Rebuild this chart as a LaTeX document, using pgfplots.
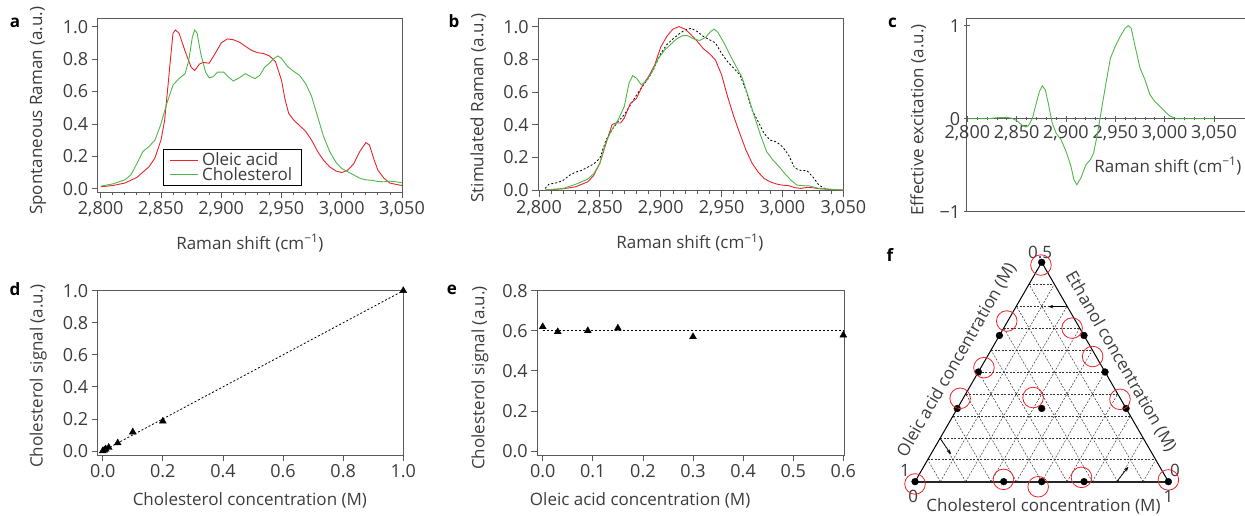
\documentclass[border=0pt]{standalone}
\usepackage{fontspec}
\setmainfont{Open Sans}
\usepackage{pgfplots}
\pgfplotsset{compat=1.18}
\usetikzlibrary{arrows.meta}
\definecolor{axg}{HTML}{5A5A5A}
\definecolor{txt}{HTML}{3C3C3C}
\definecolor{cred}{HTML}{E8232A}
\definecolor{cgreen}{HTML}{4DB848}
\newcommand\fs{\fontsize{18}{21}\selectfont}
\newcommand\fl{\fontsize{17}{20}\selectfont}
\newcommand\pl{\fontsize{17}{19}\selectfont\bfseries}
\pgfplotsset{
  panel/.style={
    scale only axis, anchor=south west,
    axis line style={axg, line width=0.8pt},
    every tick/.style={axg, line width=0.8pt},
    major tick length=6pt, minor tick length=3.5pt,
    tick align=outside,
    tick label style={font=\fs, text=txt},
    label style={font=\fl, text=txt},
    /pgf/number format/assume math mode=true,
    xlabel style={anchor=center}, ylabel style={anchor=center},
  },
  onedec/.style={/pgf/number format/.cd, fixed, fixed zerofill, precision=1},
  spec/.style={panel, xtick={2800,2850,...,3050}, minor x tick num=4,
    xticklabel style={/pgf/number format/.cd, 1000 sep={,}},
    ytick={0,0.2,0.4,0.6,0.8,1.0}, yticklabel style={onedec},
    tick pos=left, xlabel={Raman shift (cm\textsuperscript{−1})}},
}
\begin{document}
\begin{tikzpicture}
\path[use as bounding box] (0pt,0pt) rectangle (1245pt,516pt);
% ---------- a ----------
\begin{axis}[spec, at={(97.7pt,324pt)}, width=304.3pt, height=174pt,
  xmin=2797.5, xmax=3050, ymin=-0.02, ymax=1.054,
  ylabel={Spontaneous Raman (a.u.)},
  xlabel style={at={(axis description cs:0.5,-0.293)}},
  ylabel style={at={(axis description cs:-0.196,0.467)}},
  legend style={at={(0.2156,0.0345)}, anchor=south west, draw=black, line width=0.8pt,
    font=\fontsize{17}{19}\selectfont, text=txt, inner xsep=6pt, inner ysep=1.5pt,
    row sep=-3.5pt, nodes={inner xsep=3.5pt}},
  legend cell align=left,
  legend image code/.code={\draw[#1] (0pt,0pt) -- (28pt,0pt);}]
\addplot[cred, line width=0.9pt] coordinates {
(2800,0.012)(2810,0.02)(2820,0.035)(2830,0.07)(2840,0.135)(2845,0.19)(2850,0.30)(2853,0.42)
(2856,0.65)(2858,0.81)(2860,0.96)(2862,0.98)(2865,0.96)(2870,0.85)(2875,0.75)(2878,0.73)
(2882,0.77)(2885,0.78)(2890,0.775)(2895,0.835)(2900,0.90)(2905,0.925)(2910,0.92)(2915,0.905)
(2920,0.88)(2925,0.855)(2930,0.84)(2935,0.835)(2940,0.82)(2945,0.785)(2950,0.67)(2953,0.55)
(2956,0.465)(2960,0.425)(2965,0.39)(2970,0.355)(2975,0.30)(2980,0.23)(2985,0.175)(2990,0.135)
(2995,0.11)(3000,0.10)(3005,0.115)(3010,0.155)(3015,0.23)(3020,0.285)(3023,0.27)(3027,0.175)
(3030,0.115)(3035,0.065)(3040,0.035)(3045,0.027)(3050,0.02)};
\addlegendentry{Oleic acid}
\addplot[cgreen, line width=0.9pt] coordinates {
(2800,0.016)(2810,0.03)(2820,0.055)(2825,0.085)(2830,0.155)(2835,0.23)(2840,0.26)(2845,0.30)
(2850,0.40)(2855,0.53)(2860,0.64)(2865,0.68)(2870,0.71)(2873,0.79)(2876,0.935)(2878,0.98)
(2880,0.96)(2883,0.835)(2887,0.72)(2890,0.685)(2893,0.69)(2897,0.72)(2902,0.72)(2906,0.69)
(2910,0.665)(2915,0.685)(2920,0.71)(2925,0.69)(2928,0.68)(2932,0.70)(2936,0.75)(2940,0.775)
(2944,0.805)(2947,0.82)(2950,0.805)(2955,0.755)(2960,0.725)(2965,0.70)(2970,0.65)(2975,0.57)
(2980,0.445)(2985,0.32)(2990,0.23)(2995,0.165)(3000,0.125)(3005,0.105)(3010,0.085)(3015,0.065)
(3020,0.055)(3025,0.052)(3030,0.045)(3035,0.043)(3040,0.047)(3045,0.043)(3050,0.037)};
\addlegendentry{Cholesterol}
\end{axis}
% ---------- b ----------
\begin{axis}[spec, at={(538.3pt,325.3pt)}, width=305pt, height=172.4pt,
  xmin=2799.4, xmax=3050, ymin=-0.004, ymax=1.051,
  ylabel={Stimulated Raman (a.u.)},
  xlabel style={at={(axis description cs:0.497,-0.303)}},
  ylabel style={at={(axis description cs:-0.197,0.48)}}]
\addplot[black, line width=0.8pt, dash pattern=on 2pt off 2pt] coordinates {
(2805,0.01)(2808,0.035)(2815,0.045)(2820,0.06)(2825,0.09)(2830,0.11)(2835,0.12)(2840,0.14)
(2845,0.16)(2850,0.195)(2855,0.305)(2860,0.37)(2865,0.42)(2870,0.46)(2875,0.52)(2880,0.58)
(2885,0.635)(2890,0.685)(2895,0.755)(2900,0.835)(2905,0.89)(2910,0.925)(2915,0.955)(2920,0.98)
(2925,0.99)(2930,0.97)(2935,0.94)(2940,0.92)(2945,0.90)(2950,0.835)(2955,0.785)(2960,0.745)
(2965,0.705)(2970,0.61)(2975,0.49)(2980,0.42)(2985,0.345)(2990,0.305)(2995,0.295)(3000,0.265)
(3005,0.215)(3010,0.135)(3015,0.12)(3020,0.12)(3025,0.08)(3030,0.03)(3035,0.008)(3040,0.0)};
\addplot[cred, line width=0.9pt] coordinates {
(2805,0.0)(2820,0.008)(2830,0.02)(2840,0.05)(2845,0.09)(2850,0.165)(2855,0.285)(2860,0.40)
(2863,0.41)(2867,0.41)(2870,0.44)(2875,0.53)(2880,0.56)(2885,0.64)(2890,0.695)(2895,0.765)
(2900,0.875)(2905,0.94)(2910,0.985)(2915,1.0)(2920,0.985)(2925,0.95)(2930,0.91)(2935,0.865)
(2940,0.835)(2945,0.795)(2950,0.705)(2955,0.57)(2960,0.45)(2965,0.345)(2970,0.245)(2975,0.165)
(2980,0.11)(2985,0.07)(2990,0.05)(2995,0.037)(3000,0.03)(3005,0.027)(3010,0.015)(3015,0.01)
(3020,0.016)(3025,0.014)(3030,0.008)(3040,0.004)(3050,0.0)};
\addplot[cgreen, line width=0.9pt] coordinates {
(2805,0.0)(2820,0.01)(2830,0.035)(2840,0.067)(2845,0.10)(2850,0.165)(2855,0.295)(2860,0.37)
(2865,0.43)(2870,0.51)(2874,0.655)(2877,0.70)(2880,0.685)(2884,0.645)(2888,0.665)(2893,0.725)
(2898,0.805)(2903,0.855)(2908,0.89)(2913,0.925)(2918,0.945)(2922,0.945)(2927,0.925)(2932,0.915)
(2937,0.935)(2941,0.97)(2944,0.985)(2947,0.965)(2952,0.90)(2957,0.825)(2962,0.755)(2967,0.685)
(2972,0.57)(2977,0.45)(2982,0.335)(2987,0.235)(2992,0.185)(2997,0.145)(3002,0.10)(3007,0.06)
(3012,0.03)(3017,0.027)(3022,0.025)(3030,0.01)(3040,0.004)(3050,0.0)};
\end{axis}
% ---------- c ----------
\begin{axis}[panel, at={(966.7pt,304.3pt)}, width=278.3pt, height=193.4pt,
  xmin=2799.4, xmax=3081.4, ymin=-1, ymax=1.08,
  axis y line=left, axis x line=middle, axis line style={-},
  xtick={2800,2850,...,3050}, minor x tick num=4,
  xticklabel style={/pgf/number format/.cd, 1000 sep={,}},
  ytick={-1,0,1}, yticklabels={−1,0,1},
  xlabel={Raman shift (cm\textsuperscript{−1})},
  ylabel={Effective excitation (a.u.)},
  xlabel style={font=\fl, text=txt, at={(axis description cs:0.723,0.236)}, anchor=center},
  ylabel style={font=\fl, text=txt, at={(axis description cs:-0.174,0.474)}, anchor=center},
  clip=false]
\draw[axg, line width=0.8pt] (rel axis cs:0,1) -- (rel axis cs:1.05,1);
\draw[axg, line width=0.8pt] (rel axis cs:0,0) -- (rel axis cs:1.05,0);
\addplot[cgreen, line width=0.9pt] coordinates {
(2800,0)(2820,0)(2830,0.01)(2840,0.015)(2845,0.005)(2850,-0.02)(2855,-0.065)(2859,-0.09)
(2862,-0.075)(2866,0.005)(2870,0.17)(2873,0.29)(2876,0.355)(2879,0.31)(2882,0.17)(2886,-0.045)
(2890,-0.155)(2895,-0.225)(2900,-0.35)(2905,-0.51)(2908,-0.655)(2911,-0.71)(2915,-0.64)(2920,-0.50)
(2925,-0.435)(2928,-0.37)(2932,-0.155)(2936,0.1)(2940,0.35)(2945,0.65)(2950,0.78)(2955,0.885)
(2960,0.975)(2963,1.0)(2966,0.975)(2970,0.78)(2975,0.545)(2980,0.42)(2985,0.26)(2990,0.185)
(2995,0.135)(3000,0.08)(3005,0.03)(3010,0.007)(3013,0)(3050,0)};
\end{axis}
% ---------- d ----------
\begin{axis}[panel, at={(97.7pt,61pt)}, width=305.6pt, height=164.3pt,
  xmin=-0.0167, xmax=1.0, ymin=-0.025, ymax=1.0, tick pos=left,
  xtick={0,0.2,0.4,0.6,0.8,1.0}, ytick={0,0.2,0.4,0.6,0.8,1.0},
  xticklabel style={onedec}, yticklabel style={onedec},
  xlabel={Cholesterol concentration (M)}, ylabel={Cholesterol signal (a.u.)},
  xlabel style={at={(axis description cs:0.498,-0.274)}},
  ylabel style={at={(axis description cs:-0.195,0.481)}},
  clip=false]
\addplot[black, line width=0.8pt, dash pattern=on 2pt off 2pt] coordinates {(0,0)(1,1)};
\addplot[only marks, mark=triangle*, mark size=4pt, black] coordinates {
(0,0)(0.005,0.005)(0.01,0.012)(0.02,0.022)(0.05,0.05)(0.1,0.118)(0.2,0.186)(1.0,1.0)};
\end{axis}
% ---------- e ----------
\begin{axis}[panel, at={(537.3pt,61pt)}, width=307pt, height=164.3pt,
  xmin=-0.0108, xmax=0.602, ymin=-0.02, ymax=0.8, tick pos=left,
  xtick={0,0.1,0.2,0.3,0.4,0.5,0.6}, ytick={0,0.2,0.4,0.6,0.8},
  xticklabel style={onedec}, yticklabel style={onedec},
  xlabel={Oleic acid concentration (M)}, ylabel={Cholesterol signal (a.u.)},
  xlabel style={at={(axis description cs:0.335,-0.274)}},
  ylabel style={at={(axis description cs:-0.187,0.469)}},
  clip=false]
\addplot[black, line width=0.8pt, dash pattern=on 2pt off 2pt] coordinates {(0,0.6)(0.6,0.6)};
\addplot[only marks, mark=triangle*, mark size=4pt, black] coordinates {
(0,0.62)(0.03,0.595)(0.09,0.60)(0.15,0.613)(0.3,0.57)(0.6,0.578)};
\end{axis}
% ---------- f ----------
\begin{axis}[at={(889.7pt,9pt)}, anchor=south west, scale only axis,
  width=304pt, height=266pt, xmin=-0.1, xmax=1.1, ymin=-0.1, ymax=0.95,
  hide axis, clip=false]
\pgfplotsset{grid line/.style={black!80, line width=0.5pt, dash pattern=on 2pt off 1.5pt}}
% horizontal lines
\addplot[grid line] coordinates {(0.05,0.0866)(0.95,0.0866)};
\addplot[grid line] coordinates {(0.10,0.1732)(0.90,0.1732)};
\addplot[grid line] coordinates {(0.15,0.2598)(0.85,0.2598)};
\addplot[grid line] coordinates {(0.20,0.3464)(0.80,0.3464)};
\addplot[grid line] coordinates {(0.25,0.4330)(0.75,0.4330)};
\addplot[grid line] coordinates {(0.30,0.5196)(0.70,0.5196)};
\addplot[grid line] coordinates {(0.35,0.6062)(0.65,0.6062)};
\addplot[grid line] coordinates {(0.40,0.6928)(0.60,0.6928)};
\addplot[grid line] coordinates {(0.45,0.7794)(0.55,0.7794)};
% parallel to left side
\addplot[grid line] coordinates {(0.1,0)(0.55,0.7794)};
\addplot[grid line] coordinates {(0.2,0)(0.60,0.6928)};
\addplot[grid line] coordinates {(0.3,0)(0.65,0.6062)};
\addplot[grid line] coordinates {(0.4,0)(0.70,0.5196)};
\addplot[grid line] coordinates {(0.5,0)(0.75,0.4330)};
\addplot[grid line] coordinates {(0.6,0)(0.80,0.3464)};
\addplot[grid line] coordinates {(0.7,0)(0.85,0.2598)};
\addplot[grid line] coordinates {(0.8,0)(0.90,0.1732)};
\addplot[grid line] coordinates {(0.9,0)(0.95,0.0866)};
% parallel to right side
\addplot[grid line] coordinates {(0.1,0)(0.05,0.0866)};
\addplot[grid line] coordinates {(0.2,0)(0.10,0.1732)};
\addplot[grid line] coordinates {(0.3,0)(0.15,0.2598)};
\addplot[grid line] coordinates {(0.4,0)(0.20,0.3464)};
\addplot[grid line] coordinates {(0.5,0)(0.25,0.4330)};
\addplot[grid line] coordinates {(0.6,0)(0.30,0.5196)};
\addplot[grid line] coordinates {(0.7,0)(0.35,0.6062)};
\addplot[grid line] coordinates {(0.8,0)(0.40,0.6928)};
\addplot[grid line] coordinates {(0.9,0)(0.45,0.7794)};
% triangle
\addplot[black, line width=1pt] coordinates {(1,0)(0.5,0.866)(0,0)};
\addplot[black!85, line width=1.8pt] coordinates {(0,0)(1,0)};
% arrows
\addplot[black, line width=0.7pt, -{Stealth[length=5pt,width=3.5pt]}] coordinates {(0.592,0.691)(0.526,0.691)};
\addplot[black, line width=0.7pt, -{Stealth[length=5pt,width=3.5pt]}] coordinates {(0.0987,0.171)(0.142,0.108)};
\addplot[black, line width=0.7pt, -{Stealth[length=5pt,width=3.5pt]}] coordinates {(0.796,0.0)(0.842,0.059)};
% black dots
\addplot[only marks, mark=*, mark size=3.4pt, black] coordinates {
(0.5,0.866)(0.333,0.577)(0.25,0.433)(0.1667,0.2887)(0,0)(0.35,0)(0.5,0)(0.667,0)(1,0)
(0.667,0.577)(0.75,0.433)(0.833,0.289)(0.5,0.289)};
% red circles
\addplot[only marks, mark=o, mark size=10.3pt, cred, line width=0.8pt] coordinates {
(0.497,0.855)(0.362,0.634)(0.272,0.450)(0.178,0.329)(0,-0.009)(0.349,0.009)(0.486,-0.020)
(0.657,0.017)(1.0,0.007)(0.620,0.606)(0.701,0.494)(0.809,0.325)(0.466,0.332)};
% labels
\node[font=\fl, text=txt, rotate=60] at (axis cs:0.165,0.480) {Oleic acid concentration (M)};
\node[font=\fl, text=txt, rotate=-60] at (axis cs:0.812,0.474) {Ethanol concentration (M)};
\node[font=\fl, text=txt] at (axis cs:0.507,-0.099) {Cholesterol concentration (M)};
\node[font=\fl, text=txt] at (axis cs:0.4935,0.906) {0.5};
\node[font=\fl, text=txt] at (axis cs:-0.0395,0.046) {1};
\node[font=\fl, text=txt] at (axis cs:-0.0067,-0.059) {0};
\node[font=\fl, text=txt] at (axis cs:1.0265,0.046) {0};
\node[font=\fl, text=txt] at (axis cs:1.0,-0.059) {1};
\end{axis}
% panel letters
\node[anchor=base, font=\pl] at (15pt,488pt) {a};
\node[anchor=base, font=\pl] at (454pt,488pt) {b};
\node[anchor=base, font=\pl] at (892.5pt,488pt) {c};
\node[anchor=base, font=\pl] at (15pt,220pt) {d};
\node[anchor=base, font=\pl] at (452pt,221pt) {e};
\node[anchor=base, font=\pl] at (890pt,254.3pt) {f};
\end{tikzpicture}
\end{document}
